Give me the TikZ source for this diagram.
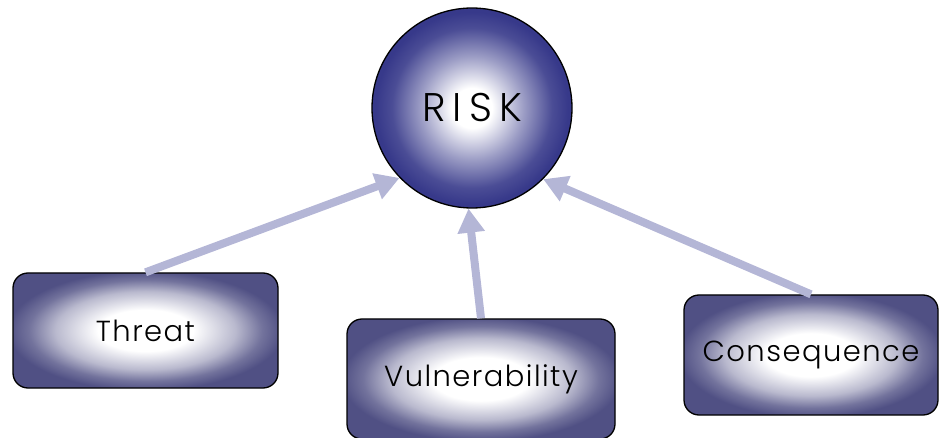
\documentclass[tikz,border=0pt]{standalone}
\usepackage{fontspec}
\newfontfamily\riskfont[LetterSpace=18]{Poppins Light}
\newfontfamily\labelfont[LetterSpace=5]{Poppins Light}
\usetikzlibrary{arrows.meta}

\definecolor{riskblue}{RGB}{55,57,138}
\definecolor{boxblue}{RGB}{80,80,132}
\definecolor{linkblue}{RGB}{180,182,214}

\pgfdeclareradialshading{riskglow}{\pgfpoint{0bp}{0bp}}{%
  color(0bp)=(white); color(5bp)=(white);
  color(13bp)=(riskblue!50); color(20bp)=(riskblue!90); color(24bp)=(riskblue);
  color(50bp)=(riskblue)}
\pgfdeclareradialshading{boxglow}{\pgfpoint{0bp}{0bp}}{%
  color(0bp)=(white); color(9bp)=(white);
  color(17bp)=(boxblue!40); color(22bp)=(boxblue!80); color(26bp)=(boxblue);
  color(50bp)=(boxblue)}

\begin{document}
\begin{tikzpicture}[
    x=1pt, y=-1pt,
    riskcircle/.style={circle, draw=black, line width=1.3pt,
      shading=riskglow, minimum size=200pt, inner sep=0pt,
      font=\riskfont\fontsize{40}{40}\selectfont},
    factorbox/.style={rectangle, rounded corners=15pt, draw=black,
      line width=1.3pt, shading=boxglow, inner sep=0pt,
      font=\labelfont\fontsize{29}{29}\selectfont},
    risklink/.style={draw=linkblue, line width=8pt,
      -{Triangle[width=26pt,length=24pt]}}
  ]
  \useasboundingbox (0,0) rectangle (940,438);
  % main node
  \node[riskcircle] (risk) at (472,108) {RISK};
  % contributing factors
  \node[factorbox, minimum width=265pt, minimum height=115pt] (threat) at (145.5,330.5) {Threat};
  \node[factorbox, minimum width=268pt, minimum height=120pt] (vuln) at (481,379) {Vulnerability};
  \node[factorbox, minimum width=254pt, minimum height=120pt] (conseq) at (811,355) {Consequence};
  % links
  \draw[risklink] (threat.north) -- (risk.224);
  \draw[risklink] (vuln.north) -- (risk.268);
  \draw[risklink] (conseq.north) -- (risk.315);
\end{tikzpicture}
\end{document}
